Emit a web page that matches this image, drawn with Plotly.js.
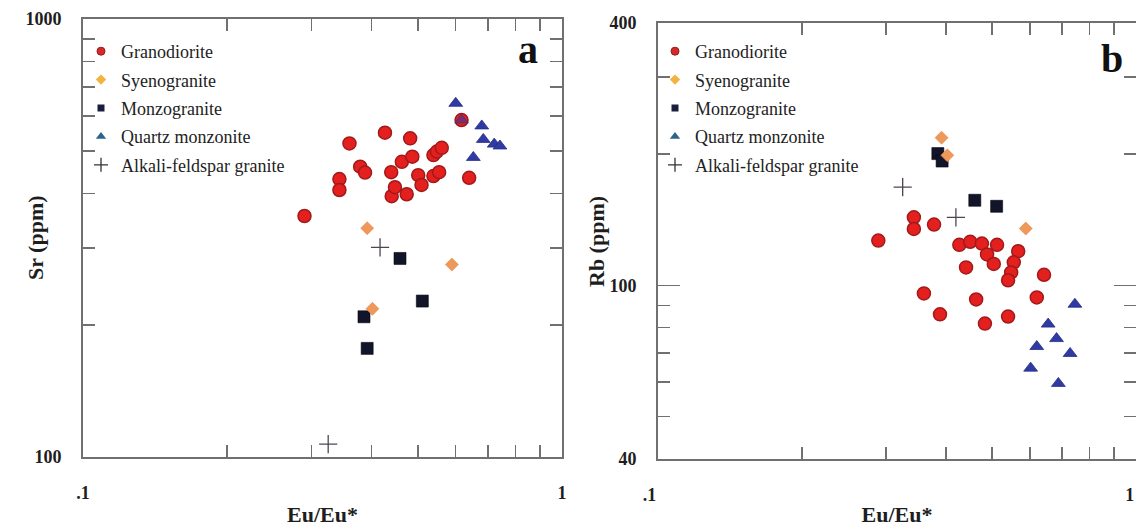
<!DOCTYPE html>
<html>
<head>
<meta charset="utf-8">
<script src="https://cdn.plot.ly/plotly-3.0.1.min.js"></script>
<style>
  html, body { margin: 0; padding: 0; background: #fff; }
  #chart { width: 1136px; height: 527px; }
</style>
</head>
<body>
<div id="chart"></div>
<script>
// ---- Panel a: Sr (ppm) vs Eu/Eu* ----
const grdA_eu = [0.290, 0.343, 0.343, 0.360, 0.379, 0.388, 0.427, 0.440, 0.441, 0.448, 0.463, 0.474,
                 0.482, 0.487, 0.501, 0.509, 0.539, 0.548, 0.561, 0.539, 0.554, 0.640, 0.617];
const grdA_sr = [355, 431, 407, 520, 460, 446, 550, 447, 394, 413, 472, 398,
                 534, 485, 440, 418, 489, 498, 508, 438, 447, 434, 588];
const syeA_eu = [0.392, 0.589, 0.402];
const syeA_sr = [333, 275, 218];
const monA_eu = [0.386, 0.392, 0.459, 0.511];
const monA_sr = [209, 177, 284, 227];
const qmzA_eu = [0.600, 0.617, 0.680, 0.685, 0.653, 0.722, 0.742];
const qmzA_sr = [642, 588, 570, 531, 483, 518, 513];
const qmzA_alpha = [1, 0.6, 1, 1, 1, 1, 1];
const afgA_eu = [0.417, 0.325];
const afgA_sr = [301, 107];

// ---- Panel b: Rb (ppm) vs Eu/Eu* ----
const grdB_eu = [0.289, 0.343, 0.343, 0.378, 0.427, 0.450, 0.476, 0.512, 0.488, 0.567, 0.504,
                 0.555, 0.441, 0.548, 0.540, 0.642, 0.360, 0.463, 0.620, 0.389, 0.540, 0.483];
const grdB_rb = [126.6, 143.1, 134.6, 137.8, 123.8, 125.8, 124.6, 123.8, 117.7, 119.7, 111.9,
                 112.9, 109.9, 107.0, 102.7, 105.7, 95.8, 92.8, 93.8, 85.8, 84.8, 81.7];
const syeB_eu = [0.392, 0.403, 0.588];
const syeB_rb = [217.9, 198.5, 134.9];
const monB_eu = [0.385, 0.393, 0.460, 0.511];
const monB_rb = [200.3, 192.6, 156.6, 151.7];
const qmzB_eu = [0.745, 0.655, 0.682, 0.620, 0.728, 0.602, 0.688];
const qmzB_rb = [90.5, 81.5, 75.5, 72.4, 69.8, 64.6, 59.6];
const afgB_eu = [0.325, 0.420];
const afgB_rb = [167.9, 143.1];

// Axis ticks
const euTicks = [0.1, 0.2, 0.3, 0.4, 0.5, 0.6, 0.7, 0.8, 0.9, 1];
const euText  = ['.1', '', '', '', '', '', '', '', '', '1'];
const srTicks = [100, 200, 300, 400, 500, 600, 700, 800, 900, 1000];
const srText  = ['100', '', '', '', '', '', '', '', '', '1000'];
const rbMajor = [40, 100, 400];
const rbMinor = [50, 60, 70, 80, 90, 200, 300];

const rockNames = ['Granodiorite', 'Syenogranite', 'Monzogranite', 'Quartz monzonite', 'Alkali-feldspar granite'];

// Marker styles per rock type
const styles = {
  grd: { symbol: 'circle', size: 13, color: '#e4201f', line: { color: '#a3191b', width: 1.5 } },
  sye: { symbol: 'diamond', size: 10, color: '#ee995a', line: { color: '#e2854c', width: 0.6 } },
  mon: { symbol: 'square', size: 12, color: '#121429', line: { color: '#05060f', width: 0.6 } },
  qmz: { symbol: 'triangle-up', size: 12, color: '#2f3aa2', line: { color: '#262f86', width: 0.8 } },
  afg: { symbol: 'cross-thin-open', size: 13, color: '#4d4652', line: { color: '#4d4652', width: 1.3 } }
};
const legendMarkers = [
  { symbol: 'circle', size: 8, color: '#d42a2a', line: { color: '#9a1b1e', width: 1 } },
  { symbol: 'diamond', size: 8, color: '#f2b340', line: { width: 0 } },
  { symbol: 'square', size: 7, color: '#1b1d3d', line: { width: 0 } },
  { symbol: 'triangle-up', size: 9, color: '#2d6489', line: { width: 0 } },
  { symbol: 'cross-thin-open', size: 10, color: '#333', line: { color: '#333', width: 1.3 } }
];

function pts(x, y, st, xa, ya, extra) {
  return Object.assign({
    type: 'scatter', mode: 'markers', x: x, y: y, xaxis: xa, yaxis: ya,
    showlegend: false, hoverinfo: 'x+y',
    marker: JSON.parse(JSON.stringify(st))
  }, extra || {});
}

const qmzStyleA = JSON.parse(JSON.stringify(styles.qmz));
qmzStyleA.opacity = qmzA_alpha;

const traces = [
  pts(grdA_eu, grdA_sr, styles.grd, 'x', 'y', { name: rockNames[0] }),
  pts(monA_eu, monA_sr, styles.mon, 'x', 'y', { name: rockNames[2] }),
  pts(syeA_eu, syeA_sr, styles.sye, 'x', 'y', { name: rockNames[1] }),
  pts(qmzA_eu, qmzA_sr, qmzStyleA, 'x', 'y', { name: rockNames[3] }),
  pts(afgA_eu, afgA_sr, styles.afg, 'x', 'y', { name: rockNames[4] }),

  pts(grdB_eu, grdB_rb, styles.grd, 'x2', 'y2', { name: rockNames[0] }),
  pts(monB_eu, monB_rb, styles.mon, 'x2', 'y2', { name: rockNames[2] }),
  pts(syeB_eu, syeB_rb, styles.sye, 'x2', 'y2', { name: rockNames[1] }),
  pts(qmzB_eu, qmzB_rb, styles.qmz, 'x2', 'y2', { name: rockNames[3] }),
  pts(afgB_eu, afgB_rb, styles.afg, 'x2', 'y2', { name: rockNames[4] })
];

// Legend entries (small key symbols), one legend per panel
['legend', 'legend2'].forEach(function (lg, p) {
  rockNames.forEach(function (nm, i) {
    traces.push({
      type: 'scatter', mode: 'markers', x: [null], y: [null],
      xaxis: p ? 'x2' : 'x', yaxis: p ? 'y2' : 'y',
      name: nm, legend: lg, legendgroup: lg + '_' + i, showlegend: true,
      marker: legendMarkers[i], hoverinfo: 'skip'
    });
  });
});

const frame = '#707070';
const serif = 'Liberation Serif, Times New Roman, serif';
const titleFont = { family: serif, size: 22, color: '#1e1e1e', weight: 'bold' };
function axisBase() {
  return {
    type: 'log', showline: true, linecolor: frame, linewidth: 2, mirror: 'allticks',
    ticks: 'inside', ticklen: 12, tickwidth: 1.5, tickcolor: frame,
    showgrid: false, zeroline: false, fixedrange: true,
    tickfont: { family: serif, size: 18, color: '#1e1e1e', weight: 'bold' }
  };
}

const xa = Object.assign(axisBase(), {
  range: [-1, 0], domain: [83 / 1136, 562 / 1136], anchor: 'y',
  tickmode: 'array', tickvals: euTicks, ticktext: euText, ticklabelstandoff: 18,
  title: { text: 'Eu/Eu*', font: titleFont }
});
const ya = Object.assign(axisBase(), {
  range: [2, 3], domain: [70 / 527, 508 / 527], anchor: 'x',
  tickmode: 'array', tickvals: srTicks, ticktext: srText, ticklabelstandoff: 16
});
// right panel sits on the page edge: its x labels end at their ticks
const xb = Object.assign(axisBase(), {
  range: [-1, 0], domain: [658 / 1136, 1], anchor: 'y2',
  tickmode: 'array', tickvals: euTicks, ticktext: euText, ticklabelstandoff: 18,
  ticklabelposition: 'outside left', ticklabeloverflow: 'allow',
  title: { text: 'Eu/Eu*', font: titleFont }
});
const yb = Object.assign(axisBase(), {
  range: [Math.log10(40), Math.log10(400)], domain: [68 / 527, 504.5 / 527], anchor: 'x2',
  tickmode: 'array', tickvals: rbMajor, ticktext: rbMajor.map(String), ticklen: 22, ticklabelstandoff: 16,
  minor: { tickmode: 'array', tickvals: rbMinor, ticklen: 12, tickwidth: 1.5, tickcolor: frame, ticks: 'inside', showgrid: false }
});

function legendBox(x) {
  return {
    x: x, xanchor: 'left', y: (527 - 33) / 527, yanchor: 'top',
    bgcolor: 'rgba(0,0,0,0)', borderwidth: 0,
    font: { family: serif, size: 18, color: '#222' },
    traceorder: 'grouped', tracegroupgap: 2, itemclick: false, itemdoubleclick: false
  };
}

const layout = {
  width: 1136, height: 527,
  margin: { l: 0, r: 0, t: 0, b: 0 },
  paper_bgcolor: '#ffffff', plot_bgcolor: '#ffffff',
  xaxis: xa, yaxis: ya, xaxis2: xb, yaxis2: yb,
  legend: legendBox(81 / 1136),
  legend2: legendBox(655 / 1136),
  annotations: [
    // vertical axis titles
    { text: 'Sr (ppm)', xref: 'paper', yref: 'paper', x: 35 / 1136, y: (527 - 238) / 527,
      xanchor: 'center', yanchor: 'middle', textangle: -90, showarrow: false, font: titleFont },
    { text: 'Rb (ppm)', xref: 'paper', yref: 'paper', x: 596 / 1136, y: (527 - 242) / 527,
      xanchor: 'center', yanchor: 'middle', textangle: -90, showarrow: false, font: titleFont },
    // panel letters
    { text: 'a', xref: 'paper', yref: 'paper', x: 528 / 1136, y: (527 - 49) / 527,
      xanchor: 'center', yanchor: 'middle',
      showarrow: false, font: { family: serif, size: 40, color: '#111', weight: 'bold' } },
    { text: 'b', xref: 'paper', yref: 'paper', x: 1112 / 1136, y: (527 - 58) / 527,
      xanchor: 'center', yanchor: 'middle',
      showarrow: false, font: { family: serif, size: 40, color: '#111', weight: 'bold' } }
  ]
};

Plotly.newPlot('chart', traces, layout, { displayModeBar: false, staticPlot: true });
</script>
</body>
</html>
